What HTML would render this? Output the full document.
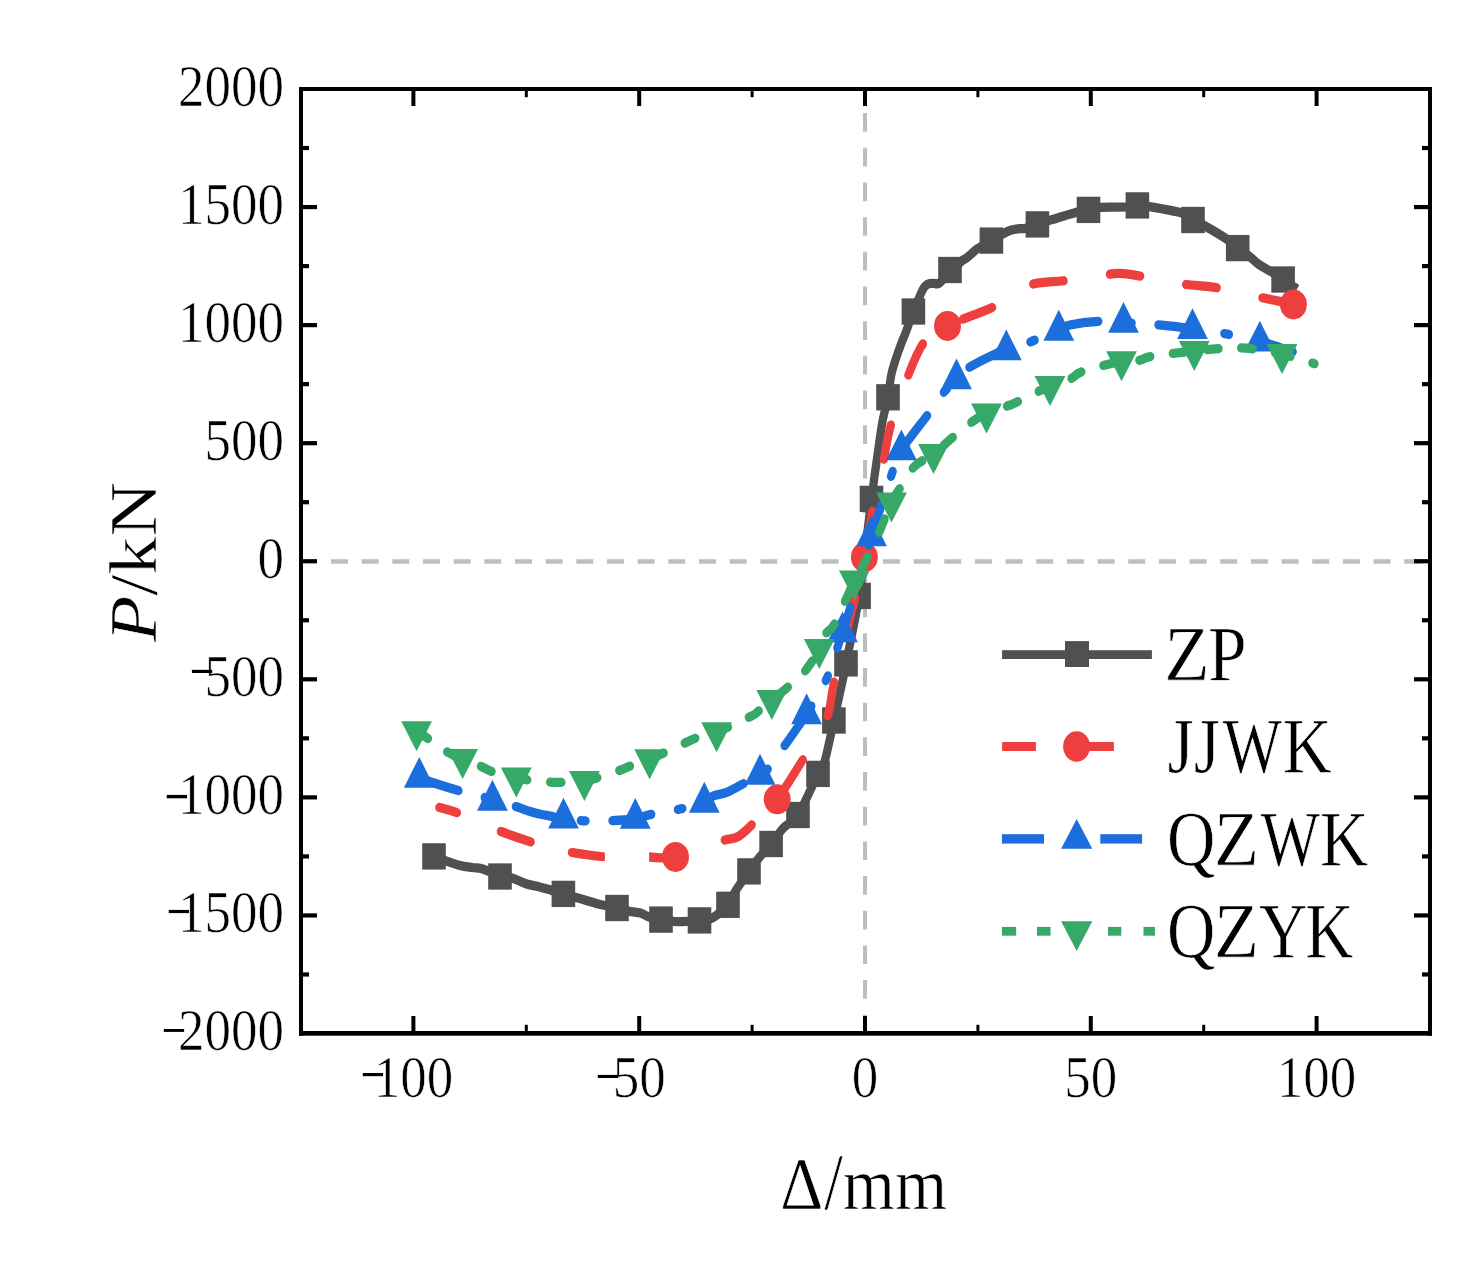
<!DOCTYPE html><html><head><meta charset="utf-8"><style>html,body{margin:0;padding:0;background:#fff;overflow:hidden;}svg{display:block;}text{font-family:"Liberation Serif",serif;fill:#000;stroke:#fff;stroke-width:0.6px;}</style></head><body>
<svg width="1472" height="1266" viewBox="0 0 1472 1266">
<rect x="0" y="0" width="1472" height="1266" fill="#fff"/>
<line x1="331" y1="561.5" x2="1428" y2="561.5" stroke="#BEBEBE" stroke-width="4.6" stroke-dasharray="17 13.663"/>
<line x1="865" y1="113.1" x2="865" y2="1031" stroke="#BEBEBE" stroke-width="4" stroke-dasharray="18.7 15.98"/>
<g transform="scale(1,1.1150)" fill="none" stroke-width="8.30" stroke-linejoin="round">
<path d="M434.00,768.07 C435.98,768.73 441.57,770.66 445.90,772.02 C450.23,773.38 455.62,775.23 460.00,776.23 C464.38,777.23 468.70,777.58 472.20,778.03 C475.70,778.48 478.37,778.40 481.00,778.92 C483.63,779.45 484.83,779.97 488.00,781.17 C491.17,782.36 496.02,785.07 500.00,786.10 C503.98,787.13 507.47,786.23 511.90,787.35 C516.33,788.48 521.98,791.48 526.60,792.83 C531.22,794.17 535.63,794.54 539.60,795.43 C543.57,796.31 546.43,797.07 550.40,798.12 C554.37,799.16 559.32,800.60 563.40,801.70 C567.48,802.81 571.33,803.84 574.90,804.75 C578.47,805.67 580.88,806.16 584.80,807.17 C588.72,808.19 595.00,810.03 598.40,810.85 C601.80,811.67 602.10,811.52 605.20,812.11 C608.30,812.69 613.03,813.48 617.00,814.35 C620.97,815.22 625.08,816.56 629.00,817.31 C632.92,818.06 637.17,817.98 640.50,818.83 C643.83,819.69 645.58,821.43 649.00,822.42 C652.42,823.41 657.02,824.11 661.00,824.75 C664.98,825.40 668.38,826.01 672.90,826.28 C677.42,826.55 683.67,826.50 688.10,826.37 C692.53,826.23 695.42,826.01 699.50,825.47 C703.58,824.93 707.85,825.47 712.60,823.14 C717.35,820.81 724.27,815.37 728.00,811.48 C731.73,807.59 731.50,804.81 735.00,799.82 C738.50,794.83 745.03,786.56 749.00,781.52 C752.97,776.49 755.12,773.69 758.80,769.60 C762.48,765.50 767.22,761.26 771.10,756.95 C774.98,752.65 779.37,746.68 782.10,743.77 C784.83,740.85 784.85,741.60 787.50,739.46 C790.15,737.32 794.58,735.32 798.00,730.94 C801.42,726.56 804.67,719.33 808.00,713.18 C811.33,707.04 815.22,699.18 818.00,694.08 C820.78,688.98 822.05,690.58 824.70,682.60 C827.35,674.62 830.77,658.80 833.90,646.19 C837.03,633.57 841.48,615.44 843.50,606.91 C845.52,598.37 843.40,607.06 846.00,594.98 C848.60,582.90 854.85,559.03 859.10,534.44 C863.35,509.85 868.40,468.70 871.50,447.44 C874.60,426.19 875.88,418.40 877.70,406.91 C879.52,395.41 880.68,386.91 882.40,378.48 C884.12,370.04 886.52,363.39 888.00,356.32 C889.48,349.25 890.00,341.78 891.30,336.05 C892.60,330.33 894.12,326.68 895.80,321.97 C897.48,317.26 899.78,311.69 901.40,307.80 C903.02,303.92 903.50,303.39 905.50,298.65 C907.50,293.92 911.15,284.60 913.40,279.37 C915.65,274.14 917.50,270.42 919.00,267.26 C920.50,264.11 921.32,262.27 922.40,260.45 C923.48,258.62 924.27,257.34 925.50,256.32 C926.73,255.31 928.35,254.72 929.80,254.35 C931.25,253.98 932.63,254.14 934.20,254.08 C935.77,254.02 936.48,255.68 939.20,253.99 C941.92,252.30 946.75,247.26 950.50,243.95 C954.25,240.63 959.07,236.14 961.70,234.08 C964.33,232.02 964.60,232.71 966.30,231.57 C968.00,230.43 970.05,228.67 971.90,227.26 C973.75,225.86 974.15,225.05 977.40,223.14 C980.65,221.23 987.17,218.01 991.40,215.78 C995.63,213.56 999.60,211.33 1002.80,209.78 C1006.00,208.22 1007.83,207.23 1010.60,206.46 C1013.37,205.68 1016.83,205.41 1019.40,205.11 C1021.97,204.81 1023.00,205.31 1026.00,204.66 C1029.00,204.02 1033.62,202.39 1037.40,201.26 C1041.18,200.12 1042.03,199.72 1048.70,197.85 C1055.37,195.98 1070.77,191.64 1077.40,190.04 C1084.03,188.45 1084.77,188.94 1088.50,188.25 C1092.23,187.56 1093.53,186.35 1099.80,185.92 C1106.07,185.49 1119.83,185.93 1126.10,185.65 C1132.37,185.37 1133.62,184.29 1137.40,184.22 C1141.18,184.14 1141.50,184.08 1148.80,185.20 C1156.10,186.32 1173.83,188.92 1181.20,190.94 C1188.57,192.96 1189.03,195.35 1193.00,197.31 C1196.97,199.27 1199.53,199.93 1205.00,202.69 C1210.47,205.46 1220.35,210.60 1225.80,213.90 C1231.25,217.20 1233.83,219.90 1237.70,222.51 C1241.57,225.13 1245.45,227.14 1249.00,229.60 C1252.55,232.05 1255.28,234.86 1259.00,237.22 C1262.72,239.58 1267.28,241.52 1271.30,243.77 C1275.32,246.01 1278.82,248.10 1283.10,250.67 C1287.38,253.24 1294.68,257.77 1297.00,259.19" stroke="#505050"/>
<rect x="422.20" y="756.27" width="23.60" height="23.60" fill="#505050" stroke="none"/>
<rect x="488.20" y="774.30" width="23.60" height="23.60" fill="#505050" stroke="none"/>
<rect x="551.60" y="789.90" width="23.60" height="23.60" fill="#505050" stroke="none"/>
<rect x="605.20" y="802.55" width="23.60" height="23.60" fill="#505050" stroke="none"/>
<rect x="649.20" y="812.95" width="23.60" height="23.60" fill="#505050" stroke="none"/>
<rect x="687.70" y="813.67" width="23.60" height="23.60" fill="#505050" stroke="none"/>
<rect x="716.20" y="799.68" width="23.60" height="23.60" fill="#505050" stroke="none"/>
<rect x="737.20" y="769.72" width="23.60" height="23.60" fill="#505050" stroke="none"/>
<rect x="759.30" y="745.15" width="23.60" height="23.60" fill="#505050" stroke="none"/>
<rect x="786.20" y="719.14" width="23.60" height="23.60" fill="#505050" stroke="none"/>
<rect x="806.20" y="682.28" width="23.60" height="23.60" fill="#505050" stroke="none"/>
<rect x="822.10" y="634.39" width="23.60" height="23.60" fill="#505050" stroke="none"/>
<rect x="834.20" y="583.18" width="23.60" height="23.60" fill="#505050" stroke="none"/>
<rect x="847.30" y="522.64" width="23.60" height="23.60" fill="#505050" stroke="none"/>
<rect x="859.70" y="435.64" width="23.60" height="23.60" fill="#505050" stroke="none"/>
<rect x="876.20" y="344.52" width="23.60" height="23.60" fill="#505050" stroke="none"/>
<rect x="901.60" y="267.57" width="23.60" height="23.60" fill="#505050" stroke="none"/>
<rect x="938.20" y="230.35" width="23.60" height="23.60" fill="#505050" stroke="none"/>
<rect x="979.60" y="203.98" width="23.60" height="23.60" fill="#505050" stroke="none"/>
<rect x="1025.60" y="189.46" width="23.60" height="23.60" fill="#505050" stroke="none"/>
<rect x="1076.70" y="176.45" width="23.60" height="23.60" fill="#505050" stroke="none"/>
<rect x="1125.60" y="172.42" width="23.60" height="23.60" fill="#505050" stroke="none"/>
<rect x="1181.20" y="185.51" width="23.60" height="23.60" fill="#505050" stroke="none"/>
<rect x="1225.90" y="210.71" width="23.60" height="23.60" fill="#505050" stroke="none"/>
<rect x="1271.30" y="238.87" width="23.60" height="23.60" fill="#505050" stroke="none"/>
<path d="M439.30,724.13 C442.58,725.04 449.38,726.22 459.00,729.60 C468.62,732.97 484.77,740.07 497.00,744.39 C509.23,748.71 523.48,752.88 532.40,755.52 C541.32,758.15 544.43,758.74 550.50,760.18" stroke="#EE3E3E" stroke-dasharray="31.00 47.00" stroke-dashoffset="12.61" stroke-linecap="round"/>
<path d="M550.50,760.18 C556.57,761.61 559.73,762.74 568.80,764.13 C577.87,765.52 595.20,767.76 604.90,768.52 C614.60,769.28 619.63,768.68 627.00,768.70" stroke="#EE3E3E" stroke-dasharray="31.00 47.00" stroke-dashoffset="55.81" stroke-linecap="round"/>
<path d="M627.00,768.70 C634.37,768.71 641.02,768.64 649.10,768.61 C657.18,768.58 663.57,770.88 675.50,768.52" stroke="#EE3E3E" stroke-dasharray="31.00 47.00" stroke-dashoffset="60.00" stroke-linecap="round"/>
<path d="M675.50,768.52 C687.43,766.16 710.20,757.52 720.70,754.44 C731.20,751.36 732.42,753.29 738.50,750.04 C744.58,746.80 750.75,740.51 757.20,734.98 C763.65,729.45 768.98,726.71 777.20,716.86" stroke="#EE3E3E" stroke-dasharray="31.00 47.00" stroke-dashoffset="26.49" stroke-linecap="round"/>
<path d="M777.20,716.86 C785.42,707.01 798.23,688.00 806.50,675.87 C814.77,663.75 822.12,655.16 826.80,644.13 C831.48,633.09 829.90,627.65 834.60,609.69 C839.30,591.72 850.03,554.65 855.00,536.32 C859.97,518.00 861.57,512.29 864.40,499.73" stroke="#EE3E3E" stroke-dasharray="31.00 47.00" stroke-dashoffset="65.53" stroke-linecap="round"/>
<path d="M864.40,499.73 C867.23,487.17 868.92,474.92 872.00,460.99 C875.08,447.06 879.77,429.40 882.90,416.14 C886.03,402.88 886.85,394.07 890.80,381.43 C894.75,368.80 901.07,352.75 906.60,340.36 C912.13,327.97 917.18,315.10 924.00,307.09 C930.82,299.07 935.65,297.73 947.50,292.29" stroke="#EE3E3E" stroke-dasharray="31.65 47.99" stroke-dashoffset="69.42" stroke-linecap="round"/>
<path d="M947.50,292.29 C959.35,286.85 981.48,280.51 995.10,274.44 C1008.72,268.37 1017.58,259.67 1029.20,255.87 C1040.82,252.08 1052.42,253.18 1064.80,251.66 C1077.18,250.13 1094.28,247.79 1103.50,246.73 C1112.72,245.67 1113.52,245.07 1120.10,245.29 C1126.68,245.52 1133.00,246.55 1143.00,248.07 C1153.00,249.60 1167.35,252.71 1180.10,254.44 C1192.85,256.17 1206.48,256.50 1219.50,258.48 C1232.52,260.45 1247.93,264.28 1258.20,266.28 C1268.47,268.28 1275.23,269.37 1281.10,270.49 C1286.97,271.61 1291.35,272.59 1293.40,273.00" stroke="#EE3E3E" stroke-dasharray="30.67 46.49" stroke-dashoffset="60.45" stroke-linecap="round"/>
<rect x="604.9" y="762.33" width="44.2" height="12.56" fill="#fff" stroke="none"/>
<circle cx="675.50" cy="768.52" r="13.45" fill="#EE3E3E" stroke="none"/>
<circle cx="777.20" cy="716.86" r="13.45" fill="#EE3E3E" stroke="none"/>
<circle cx="864.40" cy="499.73" r="13.45" fill="#EE3E3E" stroke="none"/>
<circle cx="947.50" cy="292.29" r="13.45" fill="#EE3E3E" stroke="none"/>
<circle cx="1293.40" cy="273.00" r="13.45" fill="#EE3E3E" stroke="none"/>
<path d="M419.30,697.31 C421.35,698.01 424.98,699.55 431.60,701.52 C438.22,703.50 450.43,706.94 459.00,709.15 C467.57,711.36 477.43,713.35 483.00,714.80 C488.57,716.25 487.23,716.50 492.40,717.85" stroke="#1C6EDC" stroke-dasharray="39.00 26.80 4.70 26.80" stroke-dashoffset="95.55" stroke-linecap="round"/>
<path d="M492.40,717.85 C497.57,719.19 506.98,721.02 514.00,722.87 C521.02,724.72 528.00,727.38 534.50,728.97 C541.00,730.55 548.17,731.55 553.00,732.38 C557.83,733.20 558.45,733.27 563.50,733.90" stroke="#1C6EDC" stroke-dasharray="39.00 26.80 4.70 26.80" stroke-dashoffset="73.27" stroke-linecap="round"/>
<path d="M563.50,733.90 C568.55,734.53 575.13,735.80 583.30,736.14 C591.47,736.49 603.83,736.29 612.50,735.96 C621.17,735.64 628.78,735.11 635.30,734.17" stroke="#1C6EDC" stroke-dasharray="39.00 26.80 4.70 26.80" stroke-dashoffset="48.21" stroke-linecap="round"/>
<path d="M635.30,734.17 C641.82,733.23 644.10,731.75 651.60,730.31 C659.10,728.88 671.52,727.34 680.30,725.56 C689.08,723.78 698.90,721.55 704.30,719.64" stroke="#1C6EDC" stroke-dasharray="39.00 26.80 4.70 26.80" stroke-dashoffset="22.55" stroke-linecap="round"/>
<path d="M704.30,719.64 C709.70,717.73 708.85,715.61 712.70,714.08 C716.55,712.56 722.23,712.39 727.40,710.49 C732.57,708.59 738.27,705.35 743.70,702.69 C749.13,700.03 755.78,696.89 760.00,694.53" stroke="#1C6EDC" stroke-dasharray="39.00 26.80 4.70 26.80" stroke-dashoffset="93.14" stroke-linecap="round"/>
<path d="M760.00,694.53 C764.22,692.17 765.00,692.68 769.00,688.52 C773.00,684.36 777.73,677.64 784.00,669.60 C790.27,661.55 799.47,650.46 806.60,640.27" stroke="#1C6EDC" stroke-dasharray="39.00 26.80 4.70 26.80" stroke-dashoffset="61.15" stroke-linecap="round"/>
<path d="M806.60,640.27 C813.73,630.07 821.87,617.77 826.80,608.43 C831.73,599.09 833.58,591.15 836.20,584.22 C838.82,577.28 839.87,574.25 842.50,566.82" stroke="#1C6EDC" stroke-dasharray="39.00 26.80 4.70 26.80" stroke-dashoffset="30.42" stroke-linecap="round"/>
<path d="M842.50,566.82 C845.13,559.39 847.17,553.98 852.00,539.64 C856.83,525.31 864.87,499.90 871.50,480.81" stroke="#1C6EDC" stroke-dasharray="39.00 26.80 4.70 26.80" stroke-dashoffset="15.36" stroke-linecap="round"/>
<path d="M871.50,480.81 C878.13,461.72 886.82,437.97 891.80,425.11 C896.78,412.26 895.45,412.50 901.40,403.68" stroke="#1C6EDC" stroke-dasharray="39.00 26.80 4.70 26.80" stroke-dashoffset="8.87" stroke-linecap="round"/>
<path d="M901.40,403.68 C907.35,394.86 920.32,380.96 927.50,372.20 C934.68,363.44 939.67,356.50 944.50,351.12 C949.33,345.74 952.37,343.51 956.50,339.91" stroke="#1C6EDC" stroke-dasharray="39.00 26.80 4.70 26.80" stroke-dashoffset="96.14" stroke-linecap="round"/>
<path d="M956.50,339.91 C960.63,336.31 963.02,333.18 969.30,329.51 C975.58,325.83 988.03,320.45 994.20,317.85 C1000.37,315.25 999.92,315.90 1006.30,313.90" stroke="#1C6EDC" stroke-dasharray="39.00 26.80 4.70 26.80" stroke-dashoffset="80.68" stroke-linecap="round"/>
<path d="M1006.30,313.90 C1012.68,311.90 1023.75,308.76 1032.50,305.83 C1041.25,302.90 1052.55,298.71 1058.80,296.32" stroke="#1C6EDC" stroke-dasharray="39.00 26.80 4.70 26.80" stroke-dashoffset="40.73" stroke-linecap="round"/>
<path d="M1058.80,296.32 C1065.05,293.93 1063.38,292.84 1070.00,291.48 C1076.62,290.12 1089.58,288.52 1098.50,288.16 C1107.42,287.80 1113.45,288.79 1123.50,289.33" stroke="#1C6EDC" stroke-dasharray="39.00 26.80 4.70 26.80" stroke-dashoffset="95.52" stroke-linecap="round"/>
<path d="M1123.50,289.33 C1133.55,289.87 1147.30,290.46 1158.80,291.39 C1170.30,292.32 1181.20,293.53 1192.50,294.89" stroke="#1C6EDC" stroke-dasharray="39.00 26.80 4.70 26.80" stroke-dashoffset="62.32" stroke-linecap="round"/>
<path d="M1192.50,294.89 C1203.80,296.25 1215.38,297.70 1226.60,299.55 C1237.82,301.41 1248.78,303.35 1259.80,306.01" stroke="#1C6EDC" stroke-dasharray="39.00 26.80 4.70 26.80" stroke-dashoffset="33.73" stroke-linecap="round"/>
<path d="M1259.80,306.01 C1270.82,308.67 1287.22,313.93 1292.70,315.52" stroke="#1C6EDC" stroke-dasharray="39.00 26.80 4.70 26.80" stroke-dashoffset="4.68" stroke-linecap="round"/>
<path d="M419.30,678.89 L434.70,706.52 L403.90,706.52 Z" fill="#1C6EDC" stroke="none"/>
<path d="M492.40,699.43 L507.80,727.06 L477.00,727.06 Z" fill="#1C6EDC" stroke="none"/>
<path d="M563.50,715.49 L578.90,743.11 L548.10,743.11 Z" fill="#1C6EDC" stroke="none"/>
<path d="M635.30,715.75 L650.70,743.38 L619.90,743.38 Z" fill="#1C6EDC" stroke="none"/>
<path d="M704.30,701.23 L719.70,728.85 L688.90,728.85 Z" fill="#1C6EDC" stroke="none"/>
<path d="M760.00,676.11 L775.40,703.74 L744.60,703.74 Z" fill="#1C6EDC" stroke="none"/>
<path d="M806.60,621.85 L822.00,649.48 L791.20,649.48 Z" fill="#1C6EDC" stroke="none"/>
<path d="M842.50,548.40 L857.90,576.02 L827.10,576.02 Z" fill="#1C6EDC" stroke="none"/>
<path d="M871.50,462.39 L886.90,490.01 L856.10,490.01 Z" fill="#1C6EDC" stroke="none"/>
<path d="M901.40,385.26 L916.80,412.88 L886.00,412.88 Z" fill="#1C6EDC" stroke="none"/>
<path d="M956.50,321.49 L971.90,349.12 L941.10,349.12 Z" fill="#1C6EDC" stroke="none"/>
<path d="M1006.30,295.49 L1021.70,323.11 L990.90,323.11 Z" fill="#1C6EDC" stroke="none"/>
<path d="M1058.80,277.91 L1074.20,305.53 L1043.40,305.53 Z" fill="#1C6EDC" stroke="none"/>
<path d="M1123.50,270.91 L1138.90,298.54 L1108.10,298.54 Z" fill="#1C6EDC" stroke="none"/>
<path d="M1192.50,276.47 L1207.90,304.10 L1177.10,304.10 Z" fill="#1C6EDC" stroke="none"/>
<path d="M1259.80,287.59 L1275.20,315.22 L1244.40,315.22 Z" fill="#1C6EDC" stroke="none"/>
<path d="M416.60,655.87 C418.50,656.95 422.88,659.24 428.00,662.33 C433.12,665.43 441.53,671.36 447.30,674.44 C453.07,677.52 457.00,678.67 462.60,680.81" stroke="#36A968" stroke-dasharray="11.70 22.60" stroke-dashoffset="32.89" stroke-linecap="round"/>
<path d="M462.60,680.81 C468.20,682.94 475.90,685.37 480.90,687.26 C485.90,689.16 486.70,690.54 492.60,692.20 C498.50,693.86 510.45,695.99 516.30,697.22" stroke="#36A968" stroke-dasharray="11.70 22.60" stroke-dashoffset="14.82" stroke-linecap="round"/>
<path d="M516.30,697.22 C522.15,698.45 521.72,698.82 527.70,699.55 C533.68,700.28 546.37,701.27 552.20,701.61 C558.03,701.96 557.33,701.79 562.70,701.61 C568.07,701.43 575.35,702.18 584.40,700.54" stroke="#36A968" stroke-dasharray="11.70 22.60" stroke-dashoffset="0.39" stroke-linecap="round"/>
<path d="M584.40,700.54 C593.45,698.89 609.28,694.02 617.00,691.75 C624.72,689.48 625.27,688.70 630.70,686.91 C636.13,685.11 640.67,684.36 649.60,680.99" stroke="#36A968" stroke-dasharray="11.70 22.60" stroke-dashoffset="32.67" stroke-linecap="round"/>
<path d="M649.60,680.99 C658.53,677.61 676.37,669.88 684.30,666.64 C692.23,663.39 691.82,663.18 697.20,661.52 C702.58,659.87 707.72,659.84 716.60,656.68" stroke="#36A968" stroke-dasharray="11.70 22.60" stroke-dashoffset="30.69" stroke-linecap="round"/>
<path d="M716.60,656.68 C725.48,653.53 743.50,645.77 750.50,642.60 C757.50,639.43 755.05,640.12 758.60,637.67 C762.15,635.22 766.90,631.48 771.80,627.89" stroke="#36A968" stroke-dasharray="11.70 22.60" stroke-dashoffset="33.78" stroke-linecap="round"/>
<path d="M771.80,627.89 C776.70,624.30 782.38,620.57 788.00,616.14 C793.62,611.72 800.28,607.01 805.50,601.35 C810.72,595.68 815.88,587.68 819.30,582.15" stroke="#36A968" stroke-dasharray="11.70 22.60" stroke-dashoffset="26.20" stroke-linecap="round"/>
<path d="M819.30,582.15 C822.72,576.62 823.38,572.06 826.00,568.16 C828.62,564.26 830.27,566.68 835.00,558.74 C839.73,550.81 849.98,528.61 854.40,520.54" stroke="#36A968" stroke-dasharray="11.70 22.60" stroke-dashoffset="18.19" stroke-linecap="round"/>
<path d="M854.40,520.54 C858.82,512.47 858.40,515.46 861.50,510.31 C864.60,505.17 870.00,495.29 873.00,489.69 C876.00,484.08 876.42,483.18 879.50,476.68 C882.58,470.18 888.17,457.03 891.50,450.67" stroke="#36A968" stroke-dasharray="13.06 25.23" stroke-dashoffset="26.52" stroke-linecap="round"/>
<path d="M891.50,450.67 C894.83,444.32 895.75,443.90 899.50,438.57 C903.25,433.23 908.33,423.87 914.00,418.65 C919.67,413.44 927.08,411.64 933.50,407.26" stroke="#36A968" stroke-dasharray="11.70 22.60" stroke-dashoffset="31.15" stroke-linecap="round"/>
<path d="M933.50,407.26 C939.92,402.88 946.00,397.25 952.50,392.38 C959.00,387.50 966.83,381.60 972.50,378.03 C978.17,374.45 980.75,373.26 986.50,370.94" stroke="#36A968" stroke-dasharray="11.70 22.60" stroke-dashoffset="21.50" stroke-linecap="round"/>
<path d="M986.50,370.94 C992.25,368.62 1002.25,365.71 1007.00,364.13 C1011.75,362.54 1007.83,364.42 1015.00,361.43 C1022.17,358.45 1040.67,349.84 1050.00,346.19" stroke="#36A968" stroke-dasharray="11.70 22.60" stroke-dashoffset="12.75" stroke-linecap="round"/>
<path d="M1050.00,346.19 C1059.33,342.54 1065.50,341.76 1071.00,339.55 C1076.50,337.34 1074.58,335.50 1083.00,332.91 C1091.42,330.33 1112.17,325.65 1121.50,324.04" stroke="#36A968" stroke-dasharray="11.70 22.60" stroke-dashoffset="11.81" stroke-linecap="round"/>
<path d="M1121.50,324.04 C1130.83,322.42 1134.08,323.95 1139.00,323.23 C1143.92,322.51 1141.78,321.15 1151.00,319.73 C1160.22,318.31 1182.47,315.90 1194.30,314.71" stroke="#36A968" stroke-dasharray="11.70 22.60" stroke-dashoffset="16.54" stroke-linecap="round"/>
<path d="M1194.30,314.71 C1206.13,313.51 1213.38,312.99 1222.00,312.56 C1230.62,312.12 1240.33,311.94 1246.00,312.11 C1251.67,312.27 1250.00,312.63 1256.00,313.54 C1262.00,314.45 1272.25,315.47 1282.00,317.58" stroke="#36A968" stroke-dasharray="11.70 22.60" stroke-dashoffset="21.70" stroke-linecap="round"/>
<path d="M1282.00,317.58 C1291.75,319.69 1309.08,324.75 1314.50,326.19" stroke="#36A968" stroke-dasharray="11.70 22.60" stroke-dashoffset="2.95" stroke-linecap="round"/>
<path d="M401.20,646.91 L432.00,646.91 L416.60,673.81 Z" fill="#36A968" stroke="none"/>
<path d="M447.20,671.84 L478.00,671.84 L462.60,698.74 Z" fill="#36A968" stroke="none"/>
<path d="M500.90,688.25 L531.70,688.25 L516.30,715.16 Z" fill="#36A968" stroke="none"/>
<path d="M569.00,691.57 L599.80,691.57 L584.40,718.48 Z" fill="#36A968" stroke="none"/>
<path d="M634.20,672.02 L665.00,672.02 L649.60,698.92 Z" fill="#36A968" stroke="none"/>
<path d="M701.20,647.71 L732.00,647.71 L716.60,674.62 Z" fill="#36A968" stroke="none"/>
<path d="M756.40,618.92 L787.20,618.92 L771.80,645.83 Z" fill="#36A968" stroke="none"/>
<path d="M803.90,573.18 L834.70,573.18 L819.30,600.09 Z" fill="#36A968" stroke="none"/>
<path d="M839.00,511.57 L869.80,511.57 L854.40,538.48 Z" fill="#36A968" stroke="none"/>
<path d="M876.10,441.70 L906.90,441.70 L891.50,468.61 Z" fill="#36A968" stroke="none"/>
<path d="M918.10,398.30 L948.90,398.30 L933.50,425.20 Z" fill="#36A968" stroke="none"/>
<path d="M971.10,361.97 L1001.90,361.97 L986.50,388.88 Z" fill="#36A968" stroke="none"/>
<path d="M1034.60,337.22 L1065.40,337.22 L1050.00,364.13 Z" fill="#36A968" stroke="none"/>
<path d="M1106.10,315.07 L1136.90,315.07 L1121.50,341.97 Z" fill="#36A968" stroke="none"/>
<path d="M1178.90,305.74 L1209.70,305.74 L1194.30,332.65 Z" fill="#36A968" stroke="none"/>
<path d="M1266.60,308.61 L1297.40,308.61 L1282.00,335.52 Z" fill="#36A968" stroke="none"/>
</g>
<rect x="299" y="87" width="1133" height="4" fill="#000"/>
<rect x="299" y="1031" width="1133" height="4.7" fill="#000"/>
<rect x="299" y="87" width="4" height="948.7" fill="#000"/>
<rect x="1428" y="87" width="4" height="948.7" fill="#000"/>
<rect x="411.40" y="1016.00" width="4.0" height="15.00" fill="#000"/>
<rect x="411.40" y="91" width="4.0" height="15.00" fill="#000"/>
<rect x="524.80" y="1024.80" width="3.0" height="6.20" fill="#000"/>
<rect x="524.80" y="91" width="3.0" height="6.20" fill="#000"/>
<rect x="637.20" y="1016.00" width="4.0" height="15.00" fill="#000"/>
<rect x="637.20" y="91" width="4.0" height="15.00" fill="#000"/>
<rect x="750.60" y="1024.80" width="3.0" height="6.20" fill="#000"/>
<rect x="750.60" y="91" width="3.0" height="6.20" fill="#000"/>
<rect x="863.00" y="1016.00" width="4.0" height="15.00" fill="#000"/>
<rect x="863.00" y="91" width="4.0" height="15.00" fill="#000"/>
<rect x="976.40" y="1024.80" width="3.0" height="6.20" fill="#000"/>
<rect x="976.40" y="91" width="3.0" height="6.20" fill="#000"/>
<rect x="1088.80" y="1016.00" width="4.0" height="15.00" fill="#000"/>
<rect x="1088.80" y="91" width="4.0" height="15.00" fill="#000"/>
<rect x="1202.20" y="1024.80" width="3.0" height="6.20" fill="#000"/>
<rect x="1202.20" y="91" width="3.0" height="6.20" fill="#000"/>
<rect x="1314.60" y="1016.00" width="4.0" height="15.00" fill="#000"/>
<rect x="1314.60" y="91" width="4.0" height="15.00" fill="#000"/>
<rect x="303" y="972.37" width="6.00" height="4.2" fill="#000"/>
<rect x="1422.00" y="972.37" width="6.00" height="4.2" fill="#000"/>
<rect x="303" y="913.34" width="14.00" height="4.2" fill="#000"/>
<rect x="1414.00" y="913.34" width="14.00" height="4.2" fill="#000"/>
<rect x="303" y="854.31" width="6.00" height="4.2" fill="#000"/>
<rect x="1422.00" y="854.31" width="6.00" height="4.2" fill="#000"/>
<rect x="303" y="795.27" width="14.00" height="4.2" fill="#000"/>
<rect x="1414.00" y="795.27" width="14.00" height="4.2" fill="#000"/>
<rect x="303" y="736.24" width="6.00" height="4.2" fill="#000"/>
<rect x="1422.00" y="736.24" width="6.00" height="4.2" fill="#000"/>
<rect x="303" y="677.21" width="14.00" height="4.2" fill="#000"/>
<rect x="1414.00" y="677.21" width="14.00" height="4.2" fill="#000"/>
<rect x="303" y="618.18" width="6.00" height="4.2" fill="#000"/>
<rect x="1422.00" y="618.18" width="6.00" height="4.2" fill="#000"/>
<rect x="303" y="559.15" width="14.00" height="4.2" fill="#000"/>
<rect x="1414.00" y="559.15" width="14.00" height="4.2" fill="#000"/>
<rect x="303" y="500.12" width="6.00" height="4.2" fill="#000"/>
<rect x="1422.00" y="500.12" width="6.00" height="4.2" fill="#000"/>
<rect x="303" y="441.09" width="14.00" height="4.2" fill="#000"/>
<rect x="1414.00" y="441.09" width="14.00" height="4.2" fill="#000"/>
<rect x="303" y="382.06" width="6.00" height="4.2" fill="#000"/>
<rect x="1422.00" y="382.06" width="6.00" height="4.2" fill="#000"/>
<rect x="303" y="323.02" width="14.00" height="4.2" fill="#000"/>
<rect x="1414.00" y="323.02" width="14.00" height="4.2" fill="#000"/>
<rect x="303" y="263.99" width="6.00" height="4.2" fill="#000"/>
<rect x="1422.00" y="263.99" width="6.00" height="4.2" fill="#000"/>
<rect x="303" y="204.96" width="14.00" height="4.2" fill="#000"/>
<rect x="1414.00" y="204.96" width="14.00" height="4.2" fill="#000"/>
<rect x="303" y="145.93" width="6.00" height="4.2" fill="#000"/>
<rect x="1422.00" y="145.93" width="6.00" height="4.2" fill="#000"/>
<text transform="translate(284,1050.40) scale(1,1.117)" font-size="53" text-anchor="end">2000</text>
<text transform="translate(284,932.34) scale(1,1.117)" font-size="53" text-anchor="end">1500</text>
<text transform="translate(284,814.27) scale(1,1.117)" font-size="53" text-anchor="end">1000</text>
<text transform="translate(284,696.21) scale(1,1.117)" font-size="53" text-anchor="end">500</text>
<text transform="translate(284,578.15) scale(1,1.117)" font-size="53" text-anchor="end">0</text>
<text transform="translate(284,460.09) scale(1,1.117)" font-size="53" text-anchor="end">500</text>
<text transform="translate(284,342.02) scale(1,1.117)" font-size="53" text-anchor="end">1000</text>
<text transform="translate(284,223.96) scale(1,1.117)" font-size="53" text-anchor="end">1500</text>
<text transform="translate(284,105.90) scale(1,1.117)" font-size="53" text-anchor="end">2000</text>
<rect x="191.90" y="669.80" width="20.3" height="3.20" fill="#000"/>
<rect x="166.70" y="794.90" width="20.3" height="3.40" fill="#000"/>
<rect x="168.75" y="909.90" width="20.3" height="3.20" fill="#000"/>
<rect x="163.80" y="1029.00" width="20.3" height="2.90" fill="#000"/>
<text transform="translate(413.40,1097.2) scale(1,1.117)" font-size="53" text-anchor="middle">100</text>
<text transform="translate(639.20,1097.2) scale(1,1.117)" font-size="53" text-anchor="middle">50</text>
<text transform="translate(865.00,1097.2) scale(1,1.117)" font-size="53" text-anchor="middle">0</text>
<text transform="translate(1090.80,1097.2) scale(1,1.117)" font-size="53" text-anchor="middle">50</text>
<text transform="translate(1316.60,1097.2) scale(1,1.117)" font-size="53" text-anchor="middle">100</text>
<rect x="362.80" y="1073.00" width="20.2" height="3.20" fill="#000"/>
<rect x="597.80" y="1074.90" width="20.2" height="3.10" fill="#000"/>
<text transform="translate(0,1208.7) scale(1,1.10)" x="780.35 842.8 895.1" font-size="67">&#916;mm</text>
<text transform="translate(824.2,1208.9) scale(1,1.2)" font-size="67">/</text>
<text transform="translate(156,642) rotate(-90) scale(1.115,1)" font-size="68"><tspan font-style="italic">P</tspan>/kN</text>
<rect x="1002.1" y="650.2" width="149.8" height="8.8" fill="#505050"/>
<rect x="1065" y="641.1" width="24" height="25.9" fill="#505050"/>
<rect x="1002.1" y="742" width="33.8" height="9" fill="#EE3E3E"/>
<rect x="1076" y="742" width="37.9" height="9" fill="#EE3E3E"/>
<ellipse cx="1076.6" cy="746.5" rx="13.45" ry="15.25" fill="#EE3E3E"/>
<rect x="1001.9" y="834.2" width="42.1" height="9.4" fill="#1C6EDC"/>
<rect x="1100.3" y="834.2" width="41.8" height="9.4" fill="#1C6EDC"/>
<path d="M1076.7,818.9 L1092.3,848.8 L1061.1,848.8 Z" fill="#1C6EDC"/>
<rect x="1001.90" y="926.9" width="14.30" height="8.8" fill="#36A968"/>
<rect x="1036.90" y="926.9" width="13.60" height="8.8" fill="#36A968"/>
<rect x="1108.00" y="926.9" width="13.30" height="8.8" fill="#36A968"/>
<rect x="1143.50" y="926.9" width="11.40" height="8.8" fill="#36A968"/>
<path d="M1061.1,921.3 L1092.3,921.3 L1076.7,951.1 Z" fill="#36A968"/>
<text transform="translate(1164.24,680.10) scale(1.107,1.15)" font-size="67.2">Z</text>
<text transform="translate(1208.10,680.10) scale(1.035,1.15)" font-size="67.2">P</text>
<text transform="translate(1167.59,772.40) scale(1.000,1.15)" font-size="67.2">J</text>
<text transform="translate(1193.69,772.40) scale(1.000,1.15)" font-size="67.2">J</text>
<text transform="translate(1222.74,772.40) scale(0.933,1.15)" font-size="67.2">W</text>
<text transform="translate(1282.85,772.40) scale(1.009,1.15)" font-size="67.2">K</text>
<text transform="translate(1166.96,865.00) scale(0.995,1.15)" font-size="67.2">Q</text>
<text transform="translate(1213.65,865.00) scale(1.104,1.15)" font-size="67.2">Z</text>
<text transform="translate(1260.84,865.00) scale(0.933,1.15)" font-size="67.2">W</text>
<text transform="translate(1319.97,865.00) scale(0.998,1.15)" font-size="67.2">K</text>
<text transform="translate(1166.96,956.60) scale(0.995,1.15)" font-size="67.2">Q</text>
<text transform="translate(1213.65,956.60) scale(1.104,1.15)" font-size="67.2">Z</text>
<text transform="translate(1259.05,956.60) scale(0.996,1.15)" font-size="67.2">Y</text>
<text transform="translate(1305.28,956.60) scale(0.993,1.15)" font-size="67.2">K</text>
</svg></body></html>
